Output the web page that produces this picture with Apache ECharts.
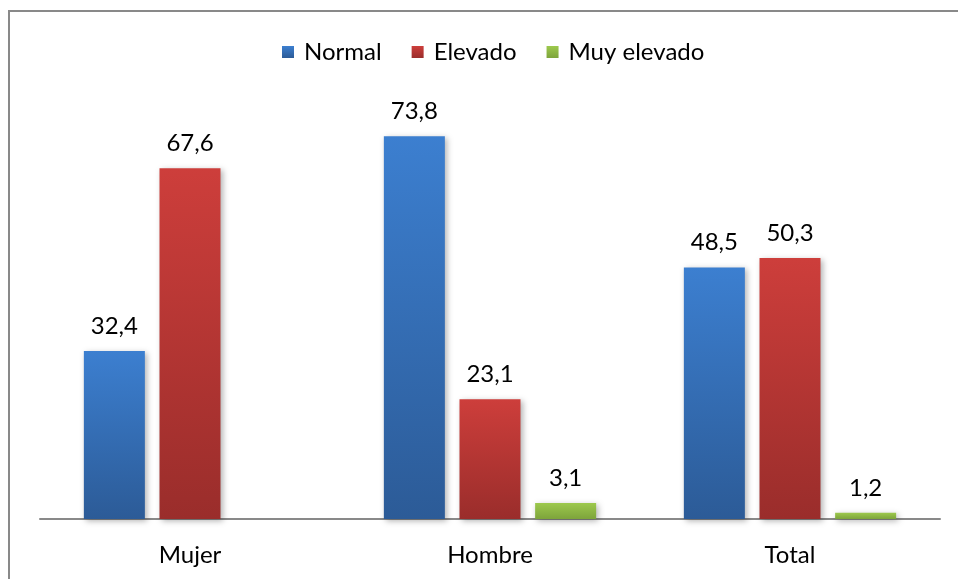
<!DOCTYPE html>
<html>
<head>
<meta charset="utf-8">
<script src="https://cdn.jsdelivr.net/npm/echarts@6/dist/echarts.min.js"></script>
<style>
  html, body { margin: 0; padding: 0; background: #fff; }
  #chart { width: 958px; height: 579px; }
</style>
</head>
<body>
<div id="chart"></div>
<script>
var categories = ["Mujer", "Hombre", "Total"];
var normal = [32.4, 73.8, 48.5];
var elevado = [67.6, 23.1, 50.3];
var muyElevado = [null, 3.1, 1.2];

var FONT = "Lato";

function grad(top, bottom) {
  return new echarts.graphic.LinearGradient(0, 0, 0, 1, [
    { offset: 0, color: top },
    { offset: 1, color: bottom }
  ]);
}

function serie(name, data, top, bottom) {
  return {
    name: name,
    type: "bar",
    data: data,
    barWidth: 61,
    barGap: "24%",
    itemStyle: {
      color: grad(top, bottom),
      shadowBlur: 6,
      shadowColor: "rgba(0,0,0,0.3)",
      shadowOffsetX: 2,
      shadowOffsetY: 2
    },
    label: {
      show: true,
      position: "top",
      distance: 13,
      fontFamily: FONT,
      fontSize: 24,
      color: "#000",
      formatter: function (p) {
        return String(p.value).replace(".", ",");
      }
    }
  };
}

var chart = echarts.init(document.getElementById("chart"));
chart.setOption({
  animation: false,
  backgroundColor: "#fff",
  graphic: [
    {
      type: "rect",
      shape: { x: 9, y: 11, width: 1000, height: 1000 },
      style: { fill: "none", stroke: "#898989", lineWidth: 2 },
      silent: true
    }
  ],
  legend: {
    top: 40,
    left: 282,
    padding: 0,
    itemWidth: 12,
    itemHeight: 12,
    itemGap: 30,
    icon: "rect",
    textStyle: { fontFamily: FONT, fontSize: 24, color: "#000", padding: [0, 0, 0, 5] },
    data: ["Normal", "Elevado", "Muy elevado"]
  },
  grid: { left: 40, right: 18, top: 104, bottom: 60, containLabel: false },
  xAxis: {
    type: "category",
    data: categories,
    axisLine: { lineStyle: { color: "#898989", width: 2 } },
    axisTick: { show: false },
    axisLabel: { fontFamily: FONT, fontSize: 24, color: "#000", margin: 24 }
  },
  yAxis: {
    type: "value",
    min: 0,
    max: 80,
    show: false,
    splitLine: { show: false }
  },
  series: [
    serie("Normal", normal, "#3c7fd0", "#2c5b97"),
    serie("Elevado", elevado, "#cd3e3b", "#9a2d2b"),
    serie("Muy elevado", muyElevado, "#9dc94d", "#7da43b")
  ]
});
</script>
</body>
</html>
